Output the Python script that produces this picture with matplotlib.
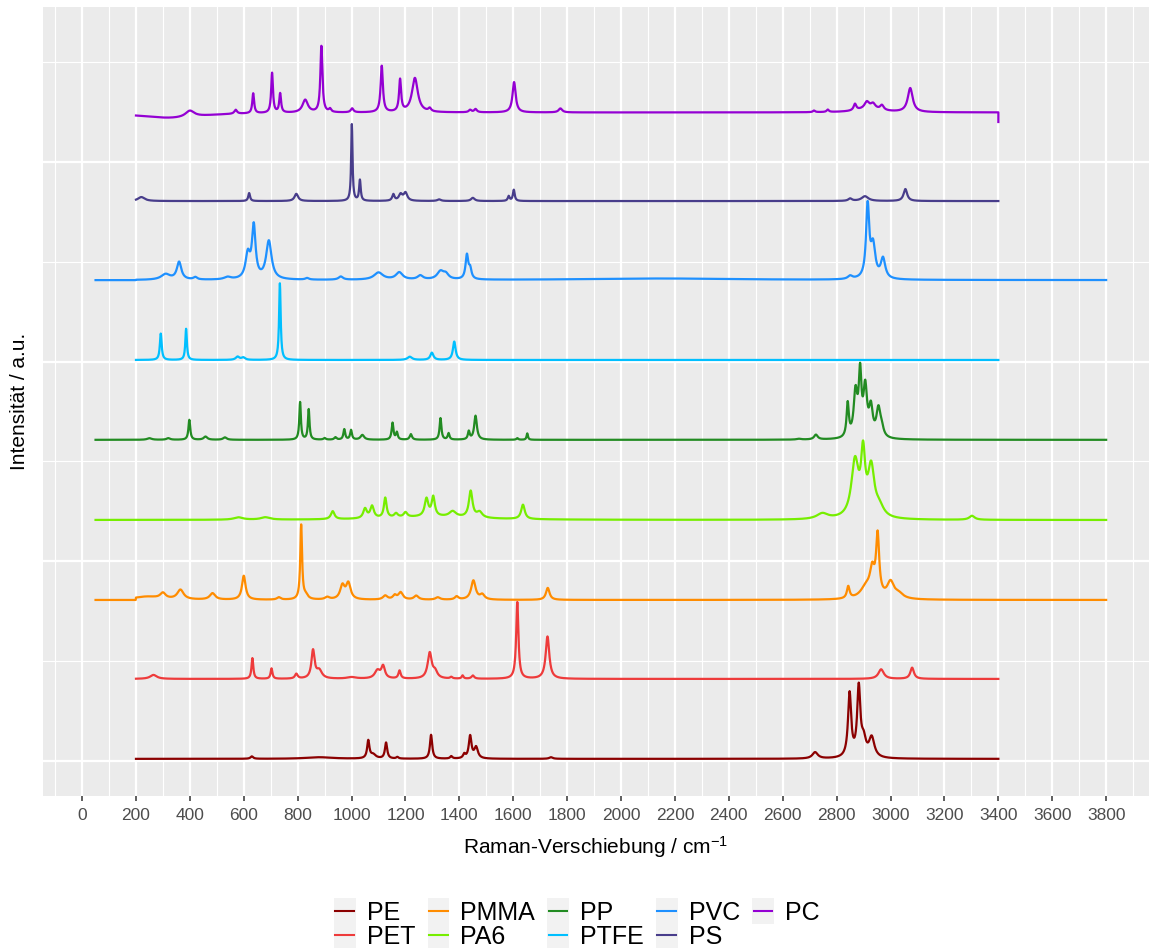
import numpy as np
import matplotlib.pyplot as plt
from matplotlib.lines import Line2D
from matplotlib.patches import Rectangle
from matplotlib.legend_handler import HandlerLine2D

plt.rcParams["font.family"] = ["Liberation Sans", "DejaVu Sans"]
plt.rcParams["mathtext.default"] = "regular"

polymers = ["PE", "PET", "PMMA", "PA6", "PP", "PTFE", "PVC", "PS", "PC"]
colors = ["#8B0000", "#EE3B3B", "#FF8C00", "#76EE00", "#228B22",
          "#00BFFF", "#1E90FF", "#483D8B", "#9400D3"]

# wavenumber range of each recorded spectrum (cm-1)
x_start = [200, 200, 50, 50, 50, 200, 50, 200, 200]
x_end = [3400, 3400, 3800, 3800, 3800, 3400, 3800, 3400, 3400]
# below this the trace is just padded with the flat baseline
signal_start = [200, 200, 200, 50, 50, 200, 200, 200, 200]
baseline = [0.025, 0.026, 0.015, 0.016, 0.02, 0.02, 0.02, 0.01, 0.12]

# band tables: (centre cm-1, height, half width cm-1), normalised intensity
pe_peaks = [(630, 0.03, 6), (880, 0.02, 60), (1062, 0.22, 5), (1080, 0.05, 12),
            (1128, 0.2, 5), (1170, 0.02, 5), (1295, 0.3, 5), (1370, 0.03, 5),
            (1418, 0.05, 5), (1440, 0.28, 6), (1462, 0.14, 8), (1740, 0.02, 8),
            (2720, 0.08, 12), (2848, 0.8, 7), (2882, 0.86, 7), (2900, 0.2, 10),
            (2930, 0.25, 12)]
pet_peaks = [(265, 0.05, 15), (632, 0.26, 4), (703, 0.13, 4), (795, 0.06, 6),
             (857, 0.35, 7), (880, 0.1, 12), (1000, 0.02, 20), (1096, 0.1, 12),
             (1117, 0.15, 8), (1178, 0.1, 5), (1290, 0.32, 9), (1310, 0.08, 10),
             (1370, 0.02, 5), (1412, 0.04, 4), (1450, 0.04, 6), (1615, 0.96, 5),
             (1727, 0.53, 8), (2965, 0.12, 12), (3080, 0.14, 8)]
pmma_peaks = [(240, 0.04, 60), (300, 0.07, 12), (365, 0.12, 14), (484, 0.08, 12),
              (600, 0.3, 8), (730, 0.03, 8), (813, 0.93, 4), (830, 0.05, 10),
              (910, 0.03, 10), (966, 0.17, 10), (988, 0.2, 10), (1125, 0.05, 10),
              (1160, 0.05, 8), (1182, 0.09, 10), (1240, 0.05, 10), (1320, 0.03, 10),
              (1390, 0.04, 8), (1452, 0.24, 10), (1485, 0.06, 10), (1728, 0.15, 8),
              (2843, 0.15, 6), (2910, 0.15, 25), (2932, 0.3, 10), (2952, 0.75, 7),
              (3000, 0.2, 15), (3030, 0.06, 20)]
pa6_peaks = [(580, 0.03, 20), (680, 0.03, 20), (930, 0.1, 8), (1050, 0.12, 8),
             (1076, 0.15, 8), (1125, 0.25, 6), (1165, 0.05, 8), (1200, 0.06, 8),
             (1300, 0.04, 200), (1278, 0.22, 8), (1303, 0.24, 7), (1375, 0.07, 15),
             (1442, 0.33, 8), (1475, 0.07, 12), (1636, 0.18, 8), (2747, 0.07, 25),
             (2868, 0.7, 16), (2898, 0.72, 9), (2928, 0.6, 14), (2958, 0.12, 20),
             (3302, 0.05, 12)]
pp_peaks = [(250, 0.02, 10), (320, 0.02, 8), (398, 0.25, 4), (458, 0.04, 8),
            (530, 0.03, 8), (809, 0.47, 3.5), (841, 0.38, 3.5), (900, 0.02, 5),
            (940, 0.03, 5), (973, 0.13, 4), (998, 0.12, 4), (1040, 0.06, 8),
            (1152, 0.21, 4), (1168, 0.09, 4), (1220, 0.07, 5), (1330, 0.27, 4),
            (1360, 0.08, 4), (1435, 0.1, 4), (1460, 0.3, 6), (1615, 0.02, 4),
            (1652, 0.08, 3), (2660, 0.01, 10), (2723, 0.06, 8), (2841, 0.42, 5),
            (2870, 0.55, 8), (2887, 0.75, 6), (2906, 0.6, 8), (2927, 0.35, 8),
            (2955, 0.35, 9), (2967, 0.1, 8)]
ptfe_peaks = [(292, 0.33, 4), (386, 0.39, 3.5), (577, 0.04, 8), (598, 0.03, 8),
              (734, 0.96, 3.5), (1216, 0.04, 10), (1298, 0.09, 7), (1381, 0.23, 6)]
pvc_peaks = [(310, 0.07, 20), (360, 0.22, 10), (420, 0.03, 8), (540, 0.03, 15),
             (615, 0.3, 10), (637, 0.65, 8), (693, 0.48, 12), (835, 0.02, 8),
             (960, 0.04, 10), (1100, 0.09, 20), (1177, 0.09, 15), (1255, 0.05, 12),
             (1330, 0.1, 15), (1350, 0.06, 12), (1428, 0.3, 6), (1440, 0.12, 6),
             (2150, 0.02, 350), (2850, 0.04, 10), (2915, 0.9, 7), (2935, 0.4, 10),
             (2972, 0.25, 10)]
ps_peaks = [(220, 0.05, 15), (620, 0.1, 4), (795, 0.09, 8), (1001, 0.96, 3),
            (1031, 0.26, 3.5), (1155, 0.08, 5), (1182, 0.08, 8), (1200, 0.1, 8),
            (1325, 0.02, 8), (1450, 0.04, 8), (1583, 0.06, 4), (1602, 0.14, 4),
            (2850, 0.03, 8), (2905, 0.06, 15), (3055, 0.15, 8)]
pc_peaks = [(330, -0.07, 150), (400, 0.08, 20), (570, 0.05, 6), (635, 0.25, 4),
            (705, 0.5, 4), (735, 0.24, 4), (828, 0.16, 12), (888, 0.83, 4.5),
            (920, 0.04, 5), (1002, 0.05, 6), (1112, 0.58, 5), (1180, 0.4, 4.5),
            (1235, 0.43, 13), (1290, 0.04, 6), (1440, 0.03, 6), (1460, 0.04, 6),
            (1603, 0.38, 7), (1775, 0.05, 8), (2716, 0.02, 5), (2767, 0.03, 5),
            (2868, 0.08, 6), (2912, 0.08, 10), (2935, 0.06, 10), (2968, 0.06, 8),
            (2920, 0.05, 50), (3073, 0.3, 11)]
# PC trace ends on its normalisation minimum
pc_last = 0.0

peak_tables = [pe_peaks, pet_peaks, pmma_peaks, pa6_peaks, pp_peaks,
               ptfe_peaks, pvc_peaks, ps_peaks, pc_peaks]


def spectrum(x, peaks, base, start):
    y = np.full_like(x, base, dtype=float)
    sig = x >= start
    for c, h, w in peaks:
        y[sig] += h / (1 + ((x[sig] - c) / w) ** 2)
    return y


class KeyHandler(HandlerLine2D):
    # ggplot-like legend key: grey square behind a short line
    def create_artists(self, legend, orig, xd, yd, width, height, fontsize, trans):
        box = Rectangle((-xd - 1, -yd - 3), width + 2, height + 6,
                        facecolor="#F2F2F2", edgecolor="none", transform=trans)
        arts = super().create_artists(legend, orig, xd, yd, width, height,
                                      fontsize, trans)
        return [box] + arts


fig = plt.figure(figsize=(11.55, 9.52), dpi=100)
ax = fig.add_axes([43 / 1155, 1 - 796 / 952, 1106 / 1155, 789 / 952])
ax.set_facecolor("#EBEBEB")

handles = []
for i, (name, col, peaks) in enumerate(zip(polymers, colors, peak_tables)):
    x = np.arange(x_start[i], x_end[i] + 1, 1.0)
    y = spectrum(x, peaks, baseline[i], signal_start[i])
    if name == "PC":
        x = np.append(x, x_end[i])
        y = np.append(y, pc_last)
    ax.plot(x, y + i, color=col, lw=1.6, zorder=3)
    handles.append(Line2D([], [], color=col, lw=1.5))

ax.set_xlim(-145, 3959)
ax.set_ylim(-0.44, 9.44)
ax.set_xticks(np.arange(0, 3801, 200))
ax.set_xticks(np.arange(-100, 3901, 200), minor=True)
ax.set_yticks([0, 2.5, 5, 7.5])
ax.set_yticks([1.25, 3.75, 6.25, 8.75], minor=True)
ax.grid(which="major", color="white", lw=1.6)
ax.grid(which="minor", color="white", lw=0.8)
ax.set_axisbelow(True)
for s in ax.spines.values():
    s.set_visible(False)
ax.tick_params(axis="x", which="major", length=3.5, width=1.1, color="#333333",
               labelsize=12.5, labelcolor="#4D4D4D", pad=5)
ax.tick_params(axis="x", which="minor", length=0)
ax.tick_params(axis="y", which="both", length=0, labelleft=False)

ax.set_xlabel("Raman-Verschiebung / cm$^{-1}$", fontsize=15, labelpad=8)
ax.set_ylabel("Intensität / a.u.", fontsize=15, labelpad=10)

fig.legend(handles, polymers, loc="lower center", bbox_to_anchor=(0.5, -0.02),
           ncol=5, frameon=False, fontsize=18, handlelength=0.75,
           handletextpad=0.5, columnspacing=0.55, labelspacing=-0.02,
           handler_map={Line2D: KeyHandler()})

fig.savefig("out.png", dpi=100)
